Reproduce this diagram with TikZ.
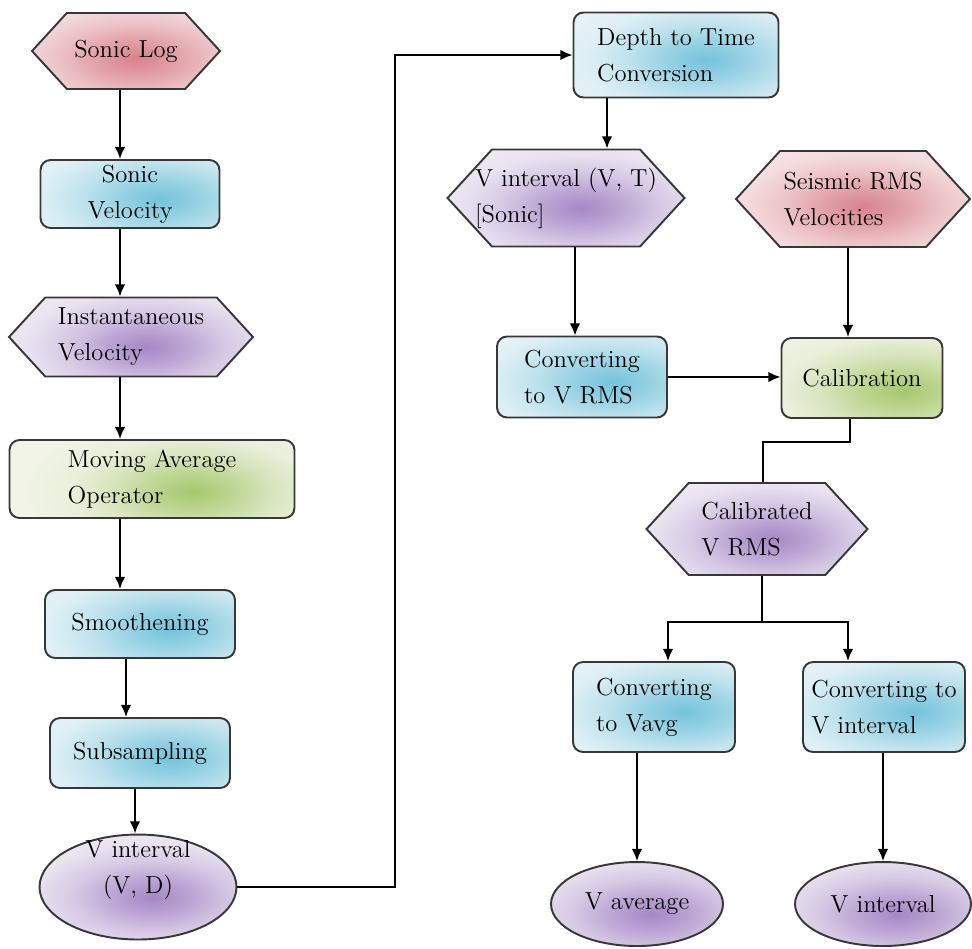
\documentclass[tikz,border=0pt]{standalone}
\usetikzlibrary{shapes.symbols,shapes.geometric,arrows.meta}

\definecolor{skyfill}{HTML}{E9F4F8}
\definecolor{skyblob}{HTML}{74C3DB}
\definecolor{rosefill}{HTML}{F8E7E8}
\definecolor{roseblob}{HTML}{D8828C}
\definecolor{lilacfill}{HTML}{F0EDF5}
\definecolor{lilacblob}{HTML}{A687C6}
\definecolor{sagefill}{HTML}{F1F4E6}
\definecolor{sageblob}{HTML}{A6C86E}
\definecolor{edgegray}{HTML}{383838}

% soft glow in the middle of every node
\newcommand{\glowshading}[3]{%
  \colorlet{#1hi}{#2!70!#3}\colorlet{#1mid}{#2!35!#3}\colorlet{#1lo}{#2!10!#3}%
  \pgfdeclareradialshading{#1}{\pgfpoint{0bp}{0bp}}{color(0bp)=(#2);
    color(5bp)=(#1hi); color(10bp)=(#1mid); color(15bp)=(#1lo);
    color(21bp)=(#3); color(50bp)=(#3)}}
\glowshading{skyglow}{skyblob}{skyfill}
\glowshading{roseglow}{roseblob}{rosefill}
\glowshading{lilacglow}{lilacblob}{lilacfill}
\glowshading{sageglow}{sageblob}{sagefill}

\begin{document}
\begin{tikzpicture}[x=0.02cm, y=-0.02cm]
      \tikzstyle{txt}=[font=\fontsize{14}{20.5}\selectfont, text=black,
        align=left, inner sep=0pt]
      \tikzstyle{nodeline}=[draw=edgegray, line width=1.1pt, txt]
      \tikzstyle{box}=[nodeline, rectangle, rounded corners=0.2cm]
      \tikzstyle{hex}=[nodeline, signal, signal to=east and west,
        signal pointer angle=95, inner xsep=-1.5cm]
      \tikzstyle{oval}=[nodeline, ellipse]
      \tikzstyle{sky}=[fill=skyfill, path picture={\shade[shading=skyglow]
        ([xshift=0.6cm,yshift=-0.1cm]path picture bounding box.center)
        ellipse (4cm and 1.8cm);}]
      \tikzstyle{rose}=[fill=rosefill, path picture={\shade[shading=roseglow]
        ([xshift=0.2cm,yshift=-0.15cm]path picture bounding box.center)
        ellipse (4cm and 1.8cm);}]
      \tikzstyle{lilac}=[fill=lilacfill, path picture={\shade[shading=lilacglow]
        ([xshift=0.3cm,yshift=-0.2cm]path picture bounding box.center)
        ellipse (4cm and 1.8cm);}]
      \tikzstyle{sage}=[fill=sagefill, path picture={\shade[shading=sageglow]
        ([xshift=0.8cm,yshift=-0.25cm]path picture bounding box.center)
        ellipse (4cm and 1.8cm);}]
      \tikzstyle{flow}=[line width=1.1pt, -{Latex[length=7pt,width=6pt]}]
      \tikzstyle{link}=[line width=1.1pt]

      \useasboundingbox (0,0) rectangle (972,948);

      % sonic log branch
      \node[hex, rose, minimum width=3.76cm, minimum height=1.52cm] (log) at (126,51)
        {Sonic Log};
      \node[box, sky, align=center, minimum width=3.58cm, minimum height=1.36cm]
        (sonicvel) at (130,194) {Sonic\\Velocity};
      \node[hex, lilac, minimum width=4.88cm, minimum height=1.58cm] (inst) at (131,337)
        {Instantaneous\\Velocity};
      \node[box, sage, minimum width=5.7cm, minimum height=1.56cm] (movavg) at (152,479)
        {Moving Average\\Operator};
      \node[box, sky, minimum width=3.8cm, minimum height=1.36cm] (smooth) at (140,624)
        {Smoothening};
      \node[box, sky, minimum width=3.6cm, minimum height=1.4cm] (subsamp) at (140,753)
        {Subsampling};
      \node[oval, lilac, minimum width=3.94cm, minimum height=2.1cm,
        label={[txt, align=center, yshift=0.34cm]center:V interval\\(V, D)}]
        (vintd) at (138,887) {};

      % time domain branch
      \node[box, sky, minimum width=4.1cm, minimum height=1.7cm] (d2t) at (676,55)
        {Depth to Time\\Conversion};
      \node[hex, lilac, minimum width=4.74cm, minimum height=1.94cm] (vintt) at (566,198)
        {V interval (V, T)\\{[Sonic]}};
      \node[hex, rose, minimum width=4.68cm, minimum height=1.92cm] (seis) at (853,199)
        {Seismic RMS\\Velocities};
      \node[box, sky, minimum width=3.4cm, minimum height=1.62cm] (tovrms) at (582,377)
        {Converting\\to V RMS};
      \node[box, sage, minimum width=3.22cm, minimum height=1.6cm] (calib) at (862,378)
        {Calibration};
      \node[hex, lilac, minimum width=4.42cm, minimum height=1.84cm] (calrms) at (757,529)
        {Calibrated\\V RMS};
      \node[box, sky, minimum width=3.24cm, minimum height=1.8cm] (tovavg) at (654,707)
        {Converting\\to Vavg};
      \node[box, sky, minimum width=3.24cm, minimum height=1.8cm] (tovint) at (884,707)
        {Converting to\\V interval};
      \node[oval, lilac, minimum width=3.44cm, minimum height=1.68cm] (vavg) at (637,904)
        {V average};
      \node[oval, lilac, minimum width=3.52cm, minimum height=1.68cm] (vint) at (883,904)
        {V interval};

      % left column arrows
      \draw[flow] (log.south -| 120,0) -- (sonicvel.north -| 120,0);
      \draw[flow] (sonicvel.south -| 120,0) -- (inst.north -| 120,0);
      \draw[flow] (inst.south -| 120,0) -- (movavg.north -| 120,0);
      \draw[flow] (movavg.south -| 120,0) -- (smooth.north -| 120,0);
      \draw[flow] (smooth.south -| 126,0) -- (subsamp.north -| 126,0);
      \draw[flow] (subsamp.south -| 135,0) -- (vintd.north -| 135,0);

      % across to depth-to-time
      \coordinate (riser) at (395,887);
      \draw[flow] (vintd.east) -- (riser) |- (d2t.west);

      % right side arrows
      \draw[flow] (d2t.south -| 607,0) -- (vintt.north -| 607,0);
      \draw[flow] (vintt.south -| 575,0) -- (tovrms.north -| 575,0);
      \draw[flow] (seis.south -| 848,0) -- (calib.north -| 848,0);
      \draw[flow] (tovrms.east) -- (calib.west |- tovrms.east);
      \coordinate (knee) at (850,442);
      \draw[link] (calib.south -| knee) -- (knee) -| (calrms.north -| 763,0);

      % split to the two conversions
      \coordinate (split) at (762,622);
      \draw[link] (calrms.south -| split) -- (split);
      \draw[flow] (split) -| (tovavg.north -| 668,0);
      \draw[flow] (split) -| (tovint.north -| 848,0);
      \draw[flow] (tovavg.south -| 637,0) -- (vavg.north -| 637,0);
      \draw[flow] (tovint.south -| 883,0) -- (vint.north -| 883,0);
    \end{tikzpicture}
\end{document}
